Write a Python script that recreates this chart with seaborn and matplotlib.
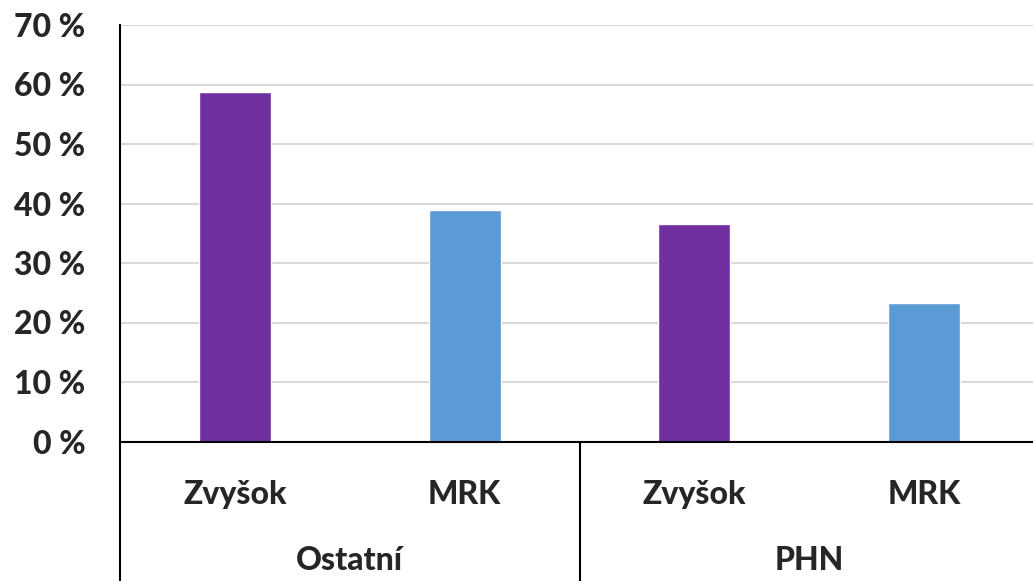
import matplotlib
matplotlib.use("Agg")
import matplotlib.pyplot as plt
import seaborn as sns
import pandas as pd

groups = ["Ostatní", "Ostatní", "PHN", "PHN"]
subs = ["Zvyšok", "MRK", "Zvyšok", "MRK"]
values = [58.8, 38.9, 36.6, 23.3]
group_labels = ["Ostatní", "PHN"]
yticks = [0, 10, 20, 30, 40, 50, 60, 70]
colors = {"Zvyšok": "#7030A0", "MRK": "#5B9BD5"}

df = pd.DataFrame({"group": groups, "sub": subs, "value": values})
df["key"] = df["group"] + "|" + df["sub"]

sns.set_theme(style="white")
plt.rcParams["font.family"] = ["Lato", "DejaVu Sans"]

FS = 23
FW = 900

fig = plt.figure(figsize=(10.33, 5.81), dpi=100)
ax = fig.add_axes([120 / 1033, 1 - 441.5 / 581, 919 / 1033, (441.5 - 25) / 581])

sns.barplot(data=df, x="key", y="value", hue="sub", palette=colors,
            dodge=False, width=0.313, ax=ax, legend=False, saturation=1)

ax.set_ylim(0, 70)
ax.set_yticks(yticks)
ax.set_yticklabels([f"{t} %" for t in yticks], fontsize=FS, fontweight=FW)
ax.yaxis.grid(True, color="#D9D9D9", linewidth=1.5)
ax.set_axisbelow(True)
ax.tick_params(axis="y", length=0, pad=25)
ax.set_xlabel("")
ax.set_ylabel("")
ax.set_xticks(range(len(subs)))
ax.set_xticklabels(subs, fontsize=FS, fontweight=FW)
ax.tick_params(axis="x", length=0, pad=28)

for s in ["top", "right"]:
    ax.spines[s].set_visible(False)
ax.spines["left"].set_color("black")
ax.spines["left"].set_linewidth(1.5)
ax.spines["bottom"].set_color("black")
ax.spines["bottom"].set_linewidth(1.5)

# category axis: extended left line, separator, group labels
trans = ax.get_xaxis_transform()
bottom_frac = -(441.5 - 581) / (441.5 - 25)
ax.plot([-0.5, -0.5], [0, -bottom_frac], transform=trans, color="black",
        lw=1.5, clip_on=False)
ax.plot([1.5, 1.5], [0, -bottom_frac], transform=trans, color="black",
        lw=1.5, clip_on=False)
for i, g in enumerate(group_labels):
    ax.text(0.5 + 2 * i, -(560 - 441.5) / (441.5 - 25), g, transform=trans,
            ha="center", va="center", fontsize=FS, fontweight=FW)

ax.set_xlim(-0.5, 3.5)
fig.savefig("out.png", dpi=100)
